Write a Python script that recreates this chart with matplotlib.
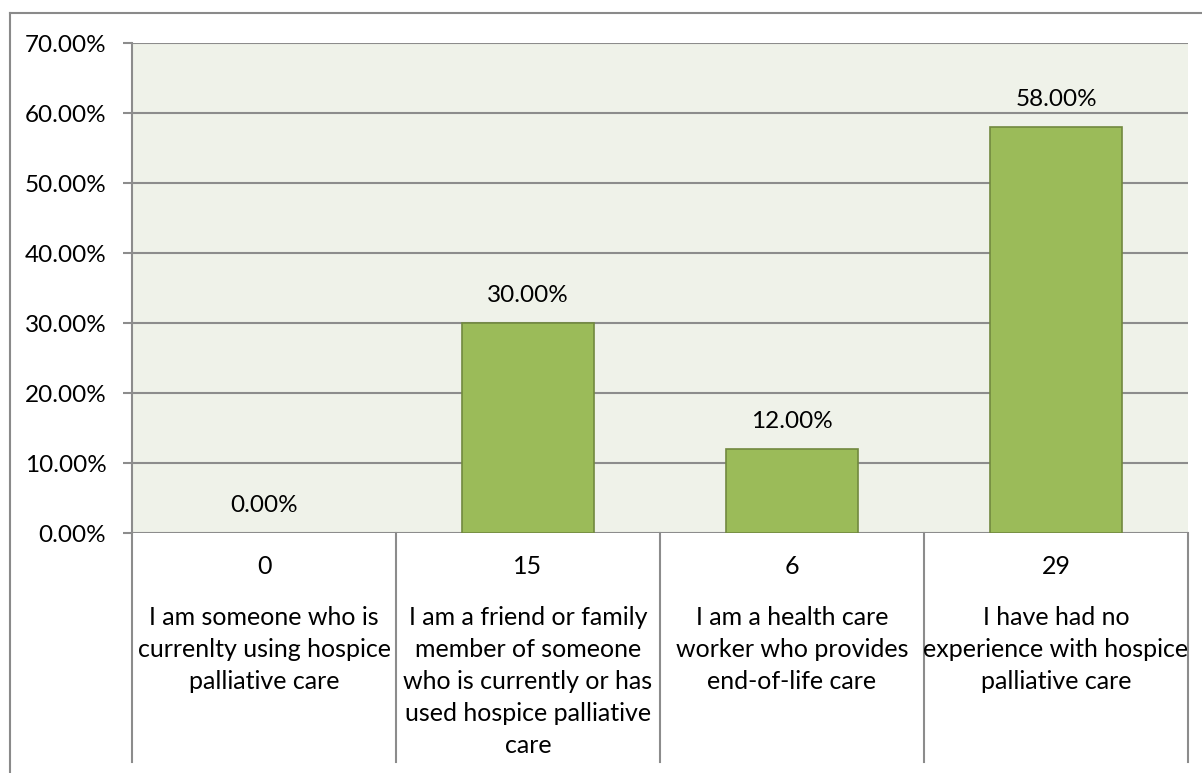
import matplotlib

matplotlib.use("Agg")
import matplotlib.pyplot as plt
from matplotlib.lines import Line2D
from matplotlib.ticker import FuncFormatter

# --- data ---
categories = [
    "I am someone who is\ncurrenlty using hospice\npalliative care",
    "I am a friend or family\nmember of someone\nwho is currently or has\nused hospice palliative\ncare",
    "I am a health care\nworker who provides\nend-of-life care",
    "I have had no\nexperience with hospice\npalliative care",
]
counts = [0, 15, 6, 29]
percents = [0.0, 30.0, 12.0, 58.0]
y_ticks = [0, 10, 20, 30, 40, 50, 60, 70]

W, H = 1202, 773
BAR = "#9BBB59"
EDGE = "#71893F"
GRID = "#8C8C8C"
FS = 17.5      # axis / value labels
FS_TAB = 18    # table text

plt.rcParams["font.family"] = ["Lato", "DejaVu Sans"]

fig = plt.figure(figsize=(W / 100, H / 100), dpi=100)
fig.patch.set_facecolor("white")

# plot area in pixel coordinates
left, right, top, bottom = 132, 1188, 43, 533
ax = fig.add_axes([left / W, 1 - bottom / H, (right - left) / W, (bottom - top) / H])
ax.set_facecolor("#EFF2E9")

x = list(range(len(categories)))
ax.bar(x, percents, width=0.5, color=BAR, edgecolor=EDGE,
       linewidth=[1.2 if p > 0 else 0 for p in percents], zorder=3)

ax.set_xlim(-0.5, len(categories) - 0.5)
ax.set_ylim(0, 70)
ax.set_yticks(y_ticks)
ax.yaxis.set_major_formatter(FuncFormatter(lambda v, _: f"{v:.2f}%"))
ax.tick_params(axis="y", length=6.5, width=1.5, color=GRID, labelsize=FS, pad=12)
ax.set_xticks([])
ax.grid(axis="y", color=GRID, linewidth=1.5, zorder=1)
for s in ["top", "right", "bottom"]:
    ax.spines[s].set_visible(False)
ax.spines["left"].set_color(GRID)
ax.spines["left"].set_linewidth(1.5)

# value labels above bars
for xi, p in zip(x, percents):
    ax.annotate(f"{p:.2f}%", xy=(xi, p), xytext=(0, 20), textcoords="offset points",
                ha="center", va="center", fontsize=FS, zorder=4)

# table below the axis
xt = ax.get_xaxis_transform()
tab_bottom = (bottom - 762) / (bottom - top)
for b in [i - 0.5 for i in range(len(categories) + 1)]:
    ax.plot([b, b], [0, tab_bottom], color=GRID, linewidth=1.5, transform=xt, clip_on=False)
num_y = (bottom - 567) / (bottom - top)
txt_y = (bottom - 606) / (bottom - top)
for xi, c, lab in zip(x, counts, categories):
    ax.text(xi, num_y, str(c), ha="center", va="center", fontsize=FS_TAB, transform=xt)
    ax.text(xi, txt_y, lab, ha="center", va="top", fontsize=FS_TAB, linespacing=1.47,
            transform=xt)

# outer chart border
fig.add_artist(Line2D([10 / W, 10 / W], [0, 1 - 13 / H], color="#8A8A8A", linewidth=1.5))
fig.add_artist(Line2D([10 / W, 1], [1 - 13 / H, 1 - 13 / H], color="#8A8A8A", linewidth=1.5))

fig.savefig("out.png", dpi=100)
plt.close(fig)
